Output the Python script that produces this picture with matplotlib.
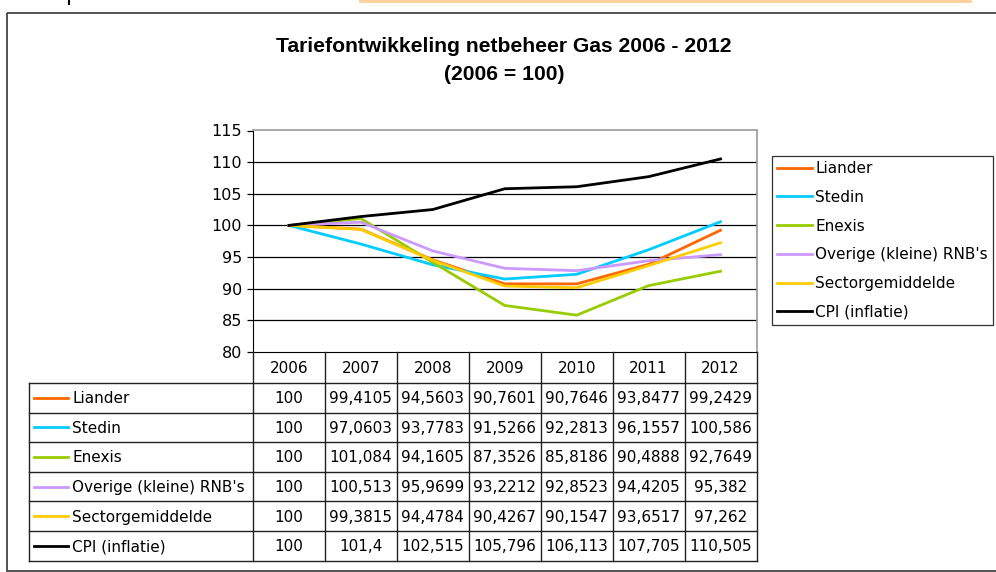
import matplotlib
matplotlib.use("Agg")
import matplotlib.pyplot as plt
from matplotlib.patches import Rectangle

years = ['2006', '2007', '2008', '2009', '2010', '2011', '2012']

liander = [100, 99.4105, 94.5603, 90.7601, 90.7646, 93.8477, 99.2429]
stedin = [100, 97.0603, 93.7783, 91.5266, 92.2813, 96.1557, 100.586]
enexis = [100, 101.084, 94.1605, 87.3526, 85.8186, 90.4888, 92.7649]
overige = [100, 100.513, 95.9699, 93.2212, 92.8523, 94.4205, 95.382]
sector = [100, 99.3815, 94.4784, 90.4267, 90.1547, 93.6517, 97.262]
cpi = [100, 101.4, 102.515, 105.796, 106.113, 107.705, 110.505]

series_names = ['Liander', 'Stedin', 'Enexis', "Overige (kleine) RNB's",
                'Sectorgemiddelde', 'CPI (inflatie)']
series_vals = [liander, stedin, enexis, overige, sector, cpi]
colors = ['#FF6600', '#00CCFF', '#99CC00', '#CC99FF', '#FFCC00', '#000000']

yticks = [80, 85, 90, 95, 100, 105, 110, 115]

W, H = 996, 572
FS = 11
fig = plt.figure(figsize=(W / 100, H / 100), dpi=100)
fig.patch.set_facecolor('white')

def fx(x):
    return x / W

def fy(y):
    return 1 - y / H

# pixel frame of the plot area
L, R, T, B = 253, 756.5, 130.5, 352
ax = fig.add_axes([fx(L), fy(B), fx(R) - fx(L), fy(T) - fy(B)])
ax.set_xlim(-0.5, len(years) - 0.5)
ax.set_ylim(80, 115)
ax.set_yticks(yticks)
ax.set_xticks([])
for yv in yticks[1:-1]:
    ax.axhline(yv, color='black', lw=0.9, zorder=1)
for s in ['top', 'right']:
    ax.spines[s].set_color('#999999')
    ax.spines[s].set_linewidth(1.2)
ax.spines['left'].set_color('black')
ax.spines['bottom'].set_color('black')
ax.tick_params(axis='y', direction='out', length=4, width=0.9,
               labelsize=11.5, pad=4)

handles = []
for name, vals, c in zip(series_names, series_vals, colors):
    ln, = ax.plot(range(len(years)), vals, color=c, lw=2, label=name,
                  zorder=3, solid_joinstyle='miter')
    handles.append(ln)

# ---- legend ----
leg = fig.legend(handles=handles, loc='upper left',
                 bbox_to_anchor=(fx(772), fy(156)), frameon=True,
                 fancybox=False, fontsize=FS, handlelength=2.3,
                 handletextpad=0.2, labelspacing=0.9, borderpad=0.33,
                 borderaxespad=0)
leg.get_frame().set_edgecolor('black')
leg.get_frame().set_linewidth(0.9)

# ---- overlay for table, frame, title ----
ov = fig.add_axes([0, 0, 1, 1], facecolor='none')
ov.set_xlim(0, W)
ov.set_ylim(H, 0)
ov.axis('off')

# outer chart frame
ov.add_patch(Rectangle((7, 13), W + 20, 558, fill=False,
                       edgecolor='#444444', lw=1.3))
# bits of the page above the chart
ov.add_patch(Rectangle((359, 0), 613, 2.5, facecolor='#FFD29F',
                       edgecolor='none'))
ov.plot([69, 69], [0, 4], color='black', lw=1.5)

ov.text(504, 47, 'Tariefontwikkeling netbeheer Gas 2006 - 2012',
        ha='center', va='center', fontsize=15.2, fontweight='bold',
        family='Liberation Sans')
ov.text(504, 75, '(2006 = 100)', ha='center', va='center', fontsize=15.2,
        fontweight='bold', family='Liberation Sans')

# data table below the axis
colw = (R - L) / len(years)
col_edges = [L + i * colw for i in range(len(years) + 1)]
tab_left = 29
row_top = 383
row_h = 29.6
n = len(series_names)
tab_bottom = row_top + n * row_h

lc = '#222222'
for xe in col_edges:
    ov.plot([xe, xe], [B, tab_bottom], color=lc, lw=1.0)
ov.plot([tab_left, tab_left], [row_top, tab_bottom], color=lc, lw=1.0)
for i in range(n + 1):
    yy = row_top + i * row_h
    ov.plot([tab_left, R], [yy, yy], color=lc, lw=1.0)

for j, yr in enumerate(years):
    ov.text(col_edges[j] + colw / 2, (B + row_top) / 2 + 1, yr,
            ha='center', va='center', fontsize=FS)

for i, (name, vals, c) in enumerate(zip(series_names, series_vals, colors)):
    yc = row_top + (i + 0.5) * row_h + 1
    ov.plot([34, 68], [yc - 1, yc - 1], color=c, lw=2)
    ov.text(72, yc, name, ha='left', va='center', fontsize=FS)
    for j, v in enumerate(vals):
        txt = ('%.6g' % v).replace('.', ',')
        ov.text(col_edges[j] + colw / 2, yc, txt, ha='center',
                va='center', fontsize=FS)

fig.savefig('out.png', dpi=100, facecolor='white')
